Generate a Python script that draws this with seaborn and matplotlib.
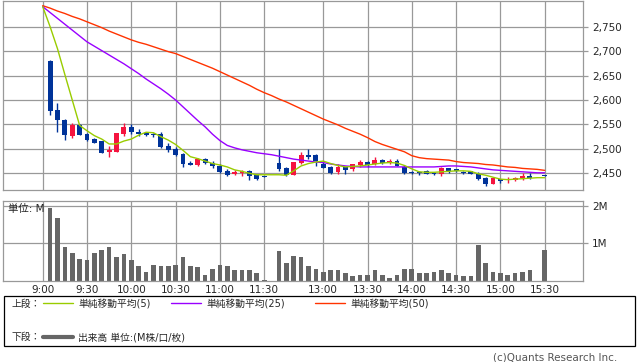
import seaborn as sns
import matplotlib.pyplot as plt
from matplotlib.patches import Rectangle
from matplotlib.lines import Line2D

# ローソク足 (5分足, 位置=インデックス)
idx = [1, 2, 3, 4, 5, 6, 7, 8, 9, 10, 11, 12, 13, 14, 15, 16, 17, 18, 19, 20,
       21, 22, 23, 24, 25, 26, 27, 28, 29, 30,
       32, 33, 34, 35, 36, 37, 38, 39, 40, 41, 42, 43, 44, 45, 46, 47, 48, 49, 50,
       51, 52, 53, 54, 55, 56, 57, 58, 59, 60, 61, 62, 63, 64, 65, 66, 68]
opens = [2680, 2579, 2560, 2526, 2548, 2530, 2520, 2516, 2494, 2494, 2530, 2544, 2534, 2533, 2530,
         2531, 2505, 2499, 2490, 2471, 2466, 2480, 2472, 2464, 2454, 2448, 2451, 2455, 2446, 2444,
         2471, 2460, 2446, 2471, 2488, 2487, 2470, 2463, 2453, 2462, 2458, 2466, 2473, 2468, 2478,
         2472, 2475, 2463, 2452, 2452, 2454, 2451, 2449, 2460, 2458, 2453, 2454, 2449, 2441, 2429,
         2438, 2436, 2437, 2440, 2444, 2446]
highs = [2682, 2593, 2562, 2553, 2550, 2533, 2523, 2517, 2505, 2533, 2552, 2550, 2540, 2535, 2533,
         2535, 2511, 2504, 2492, 2476, 2482, 2481, 2475, 2468, 2458, 2456, 2456, 2456, 2447, 2445,
         2499, 2463, 2474, 2494, 2499, 2490, 2475, 2464, 2468, 2463, 2469, 2478, 2476, 2483, 2479,
         2479, 2479, 2466, 2454, 2455, 2457, 2452, 2462, 2461, 2459, 2455, 2455, 2453, 2442, 2441,
         2439, 2442, 2442, 2451, 2451, 2447]
lows = [2570, 2534, 2519, 2522, 2529, 2517, 2511, 2492, 2483, 2494, 2526, 2531, 2526, 2526, 2524,
        2502, 2493, 2485, 2463, 2466, 2465, 2468, 2460, 2450, 2444, 2447, 2445, 2436, 2437, 2443,
        2455, 2445, 2446, 2469, 2480, 2464, 2460, 2448, 2448, 2449, 2455, 2463, 2463, 2466, 2469,
        2469, 2464, 2449, 2448, 2446, 2449, 2446, 2445, 2450, 2453, 2449, 2449, 2436, 2423, 2428,
        2431, 2431, 2434, 2437, 2438, 2445]
closes = [2578, 2560, 2529, 2548, 2529, 2518, 2513, 2492, 2497, 2532, 2544, 2535, 2531, 2528, 2529,
          2504, 2497, 2487, 2468, 2466, 2480, 2472, 2464, 2452, 2447, 2452, 2455, 2445, 2438, 2444,
          2458, 2447, 2473, 2487, 2483, 2475, 2461, 2451, 2463, 2456, 2468, 2474, 2466, 2477, 2471,
          2476, 2465, 2451, 2451, 2450, 2449, 2450, 2461, 2455, 2454, 2452, 2449, 2438, 2429, 2440,
          2435, 2438, 2440, 2444, 2440, 2446]

# 出来高 (M)
volume = [1.96, 1.69, 0.91, 0.73, 0.59, 0.54, 0.75, 0.83, 0.91, 0.64, 0.72, 0.56, 0.38, 0.24, 0.43,
          0.40, 0.40, 0.43, 0.64, 0.38, 0.35, 0.16, 0.32, 0.43, 0.38, 0.29, 0.27, 0.29, 0.19, 0.02,
          0.80, 0.46, 0.67, 0.62, 0.40, 0.32, 0.24, 0.27, 0.27, 0.19, 0.13, 0.16, 0.16, 0.27, 0.16,
          0.08, 0.16, 0.32, 0.32, 0.21, 0.19, 0.24, 0.27, 0.19, 0.16, 0.11, 0.13, 0.96, 0.48, 0.24,
          0.21, 0.16, 0.21, 0.24, 0.27, 0.83]

# 移動平均 (インデックス 0..68)
ma_idx = list(range(69))
ma5 = [2791, 2750, 2705, 2652, 2600, 2548, 2537, 2527, 2520, 2510, 2510, 2516, 2520, 2528, 2534,
       2533, 2525, 2518, 2509, 2497, 2484, 2480, 2475, 2470, 2467, 2463, 2457, 2454, 2450, 2447,
       2447, 2447, 2447, 2446, 2455, 2465, 2470, 2473, 2475, 2470, 2466, 2463, 2464, 2465, 2467,
       2469, 2471, 2472, 2471, 2466, 2459, 2453, 2452, 2452, 2453, 2454, 2455, 2455, 2454, 2449,
       2446, 2442, 2438, 2437, 2438, 2439, 2440, 2441, 2441]
ma25 = [2791, 2779, 2767, 2755, 2743, 2731, 2719, 2710, 2701, 2692, 2683, 2674, 2664, 2654, 2643,
        2633, 2623, 2612, 2600, 2586, 2572, 2558, 2545, 2530, 2517, 2507, 2502, 2498, 2495, 2492,
        2490, 2488, 2485, 2482, 2479, 2477, 2475, 2473, 2472, 2469, 2467, 2465, 2464, 2463, 2463,
        2463, 2463, 2463, 2463, 2463, 2463, 2463, 2463, 2463, 2464, 2465, 2465, 2464, 2463, 2461,
        2459, 2457, 2456, 2455, 2454, 2453, 2452, 2451, 2451]
ma50 = [2793, 2788, 2782, 2777, 2771, 2766, 2760, 2754, 2748, 2741, 2735, 2729, 2723, 2718, 2714,
        2709, 2704, 2699, 2695, 2689, 2683, 2677, 2671, 2665, 2658, 2651, 2644, 2637, 2630, 2622,
        2615, 2609, 2602, 2596, 2589, 2582, 2575, 2568, 2561, 2555, 2549, 2542, 2536, 2530, 2523,
        2515, 2509, 2504, 2499, 2494, 2486, 2482, 2480, 2479, 2478, 2477, 2474, 2472, 2471, 2470,
        2468, 2467, 2465, 2463, 2462, 2460, 2459, 2458, 2456]

time_pos = [0, 6, 12, 18, 24, 30, 38, 44, 50, 56, 62, 68]
time_labels = ['9:00', '9:30', '10:00', '10:30', '11:00', '11:30',
               '13:00', '13:30', '14:00', '14:30', '15:00', '15:30']
price_ticks = [2450, 2500, 2550, 2600, 2650, 2700, 2750]

sns.set_style("white")
plt.rcParams['font.family'] = ['DejaVu Sans', 'Noto Sans CJK JP']

W, H = 638, 362
def fx(px):
    return px / W
def fy(py):
    return 1 - py / H

grid_c = '#999999'
up_c = '#f5143f'
down_c = '#003399'

fig = plt.figure(figsize=(W / 100, H / 100), dpi=100)
ax1 = fig.add_axes([fx(3.3), fy(190), (583 - 3.3) / W, 189.5 / H])
ax2 = fig.add_axes([fx(3.3), fy(280.5), (583 - 3.3) / W, 79.5 / H])

xlim = (-5.34, 73.19)

# 上段
for ax in (ax1, ax2):
    ax.set_axisbelow(True)
    ax.grid(True, color=grid_c, linewidth=0.9)
    for s in ax.spines.values():
        s.set_color(grid_c)
        s.set_linewidth(0.9)
    ax.set_xlim(*xlim)
    ax.set_xticks(time_pos)
    ax.yaxis.tick_right()
    ax.tick_params(axis='y', length=3.5, color=grid_c, width=0.9, labelsize=7.5, pad=3)

colors = [up_c if c > o else down_c for o, c in zip(opens, closes)]
ax1.vlines(idx, lows, highs, colors=colors, linewidth=1, zorder=2)
bodies = [max(abs(c - o), 2) for o, c in zip(opens, closes)]
bottoms = [min(o, c) if abs(c - o) >= 2 else (o + c) / 2 - 1 for o, c in zip(opens, closes)]
ax1.bar(idx, bodies, bottom=bottoms, width=0.66, color=colors, linewidth=0, zorder=3)

sns.lineplot(x=ma_idx, y=ma50, ax=ax1, color='#ff3300', linewidth=1, zorder=4)
sns.lineplot(x=ma_idx, y=ma25, ax=ax1, color='#9900ff', linewidth=1, zorder=4)
sns.lineplot(x=ma_idx, y=ma5, ax=ax1, color='#99cc00', linewidth=1, zorder=5)

ax1.set_ylim(2415.8, 2803.6)
ax1.set_yticks(price_ticks)
ax1.set_yticklabels([f'{p:,}' for p in price_ticks])
ax1.set_xticklabels([])
ax1.tick_params(axis='x', length=0)
ax1.set_xlim(*xlim)
ax1.set_xlabel('')
ax1.set_ylabel('')

# 下段 出来高
sns.barplot(x=idx, y=volume, ax=ax2, native_scale=True, color='#666666', saturation=1,
            width=0.63, errorbar=None, linewidth=0)
ax2.set_xlim(*xlim)
ax2.set_ylim(0, 2.14)
ax2.set_yticks([1, 2])
ax2.set_yticklabels(['1M', '2M'])
ax2.set_xticks(time_pos)
ax2.set_xticklabels(time_labels)
ax2.tick_params(axis='x', length=0, labelsize=7.5, pad=3)
ax2.set_xlabel('')
ax2.set_ylabel('')
ax2.text(0.008, 0.9, '単位: M', transform=ax2.transAxes, fontsize=7.5, va='center', ha='left')

# 凡例
fig.add_artist(Rectangle((fx(3.5), fy(346)), (635 - 3.5) / W, (346 - 295.7) / H,
                         transform=fig.transFigure, facecolor='white', edgecolor='black',
                         linewidth=0.9))
fs = 7
fig.text(fx(12), fy(303.5), '上段：', fontsize=fs, va='center')
fig.text(fx(12), fy(337), '下段：', fontsize=fs, va='center')
legend_items = [(43, '#99cc00', '単純移動平均(5)'),
                (171, '#9900ff', '単純移動平均(25)'),
                (315, '#ff3300', '単純移動平均(50)')]
for x0, c, label in legend_items:
    fig.add_artist(Line2D([fx(x0), fx(x0 + 30)], [fy(303), fy(303)], color=c, linewidth=1))
    fig.text(fx(x0 + 35), fy(303.5), label, fontsize=fs, va='center')
fig.add_artist(Line2D([fx(43), fx(73)], [fy(336.5), fy(336.5)], color='#666666', linewidth=3))
fig.text(fx(78), fy(337), '出来高 単位:(M株/口/枚)', fontsize=fs, va='center')

fig.text(fx(617), fy(357.5), '(c)Quants Research Inc.', fontsize=7.5, va='center', ha='right',
         color='#555555')

fig.savefig('out.png', dpi=100)
